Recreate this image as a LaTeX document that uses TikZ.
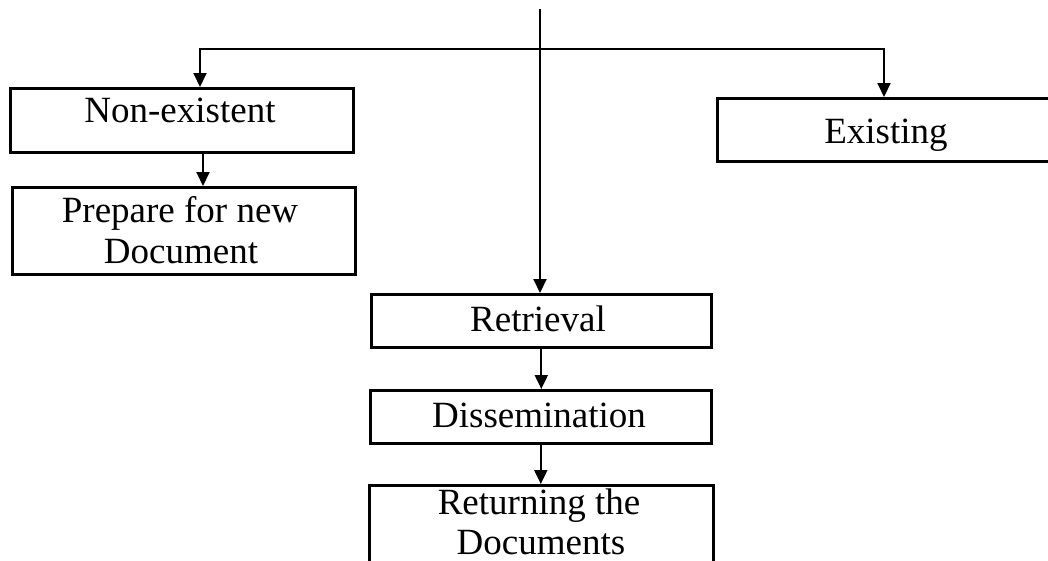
\documentclass[tikz,border=0pt]{standalone}
\usepackage{fontspec}
\setmainfont{Liberation Serif}
\usetikzlibrary{arrows.meta}
\begin{document}
\begin{tikzpicture}[x=1pt,y=-1pt,
  box/.style={draw, line width=2.6pt, inner sep=0pt, anchor=north west},
  lbl/.style={anchor=base, inner sep=0pt, font=\fontsize{37}{44}\selectfont},
  conn/.style={line width=2pt},
  arr/.style={conn, -{Triangle[width=13pt,length=14pt]}},
  arr2/.style={conn, {Triangle[width=13pt,length=14pt]}-{Triangle[width=13pt,length=14pt]}}]
\useasboundingbox (0,0) rectangle (1048,560);
\clip (0,0) rectangle (1048,560);
% boxes
\node[box, minimum width=343pt, minimum height=64pt] (nonex) at (9,87) {};
\node[box, minimum width=343pt, minimum height=87pt] (prep) at (11,186) {};
\node[box, minimum width=338pt, minimum height=63pt] (exist) at (716,97) {};
\node[box, minimum width=340pt, minimum height=53pt] (retr) at (370,293) {};
\node[box, minimum width=341pt, minimum height=53pt] (diss) at (369,389) {};
\node[box, minimum width=344pt, minimum height=80pt] (ret) at (368,484) {};
% labels
\node[lbl] (tnonex) at (180,122) {Non-existent};
\node[lbl] (tprepA) at (180,222) {Prepare for new};
\node[lbl] (tprepB) at (181,263) {Document};
\node[lbl] (texist) at (886,143) {Existing};
\node[lbl] (tretr) at (538,331) {Retrieval};
\node[lbl] (tdiss) at (539,427) {Dissemination};
\node[lbl] (tretA) at (539,514) {Returning the};
\node[lbl] (tretB) at (541,554) {Documents};
% connectors
\coordinate (top) at (540,9);
\coordinate (hl) at (200,49);
\coordinate (hr) at (884,49);
\coordinate (a1) at (203,0);
\draw[arr] (top) -- (top |- retr.north);
\draw[arr2] (hl |- nonex.north) -- (hl) -- (hr) -- (hr |- exist.north);
\draw[arr] (a1 |- nonex.south) -- (a1 |- prep.north);
\draw[arr] (retr.south) -- (retr.south |- diss.north);
\draw[arr] (diss.south) -- (diss.south |- ret.north);
\end{tikzpicture}
\end{document}
